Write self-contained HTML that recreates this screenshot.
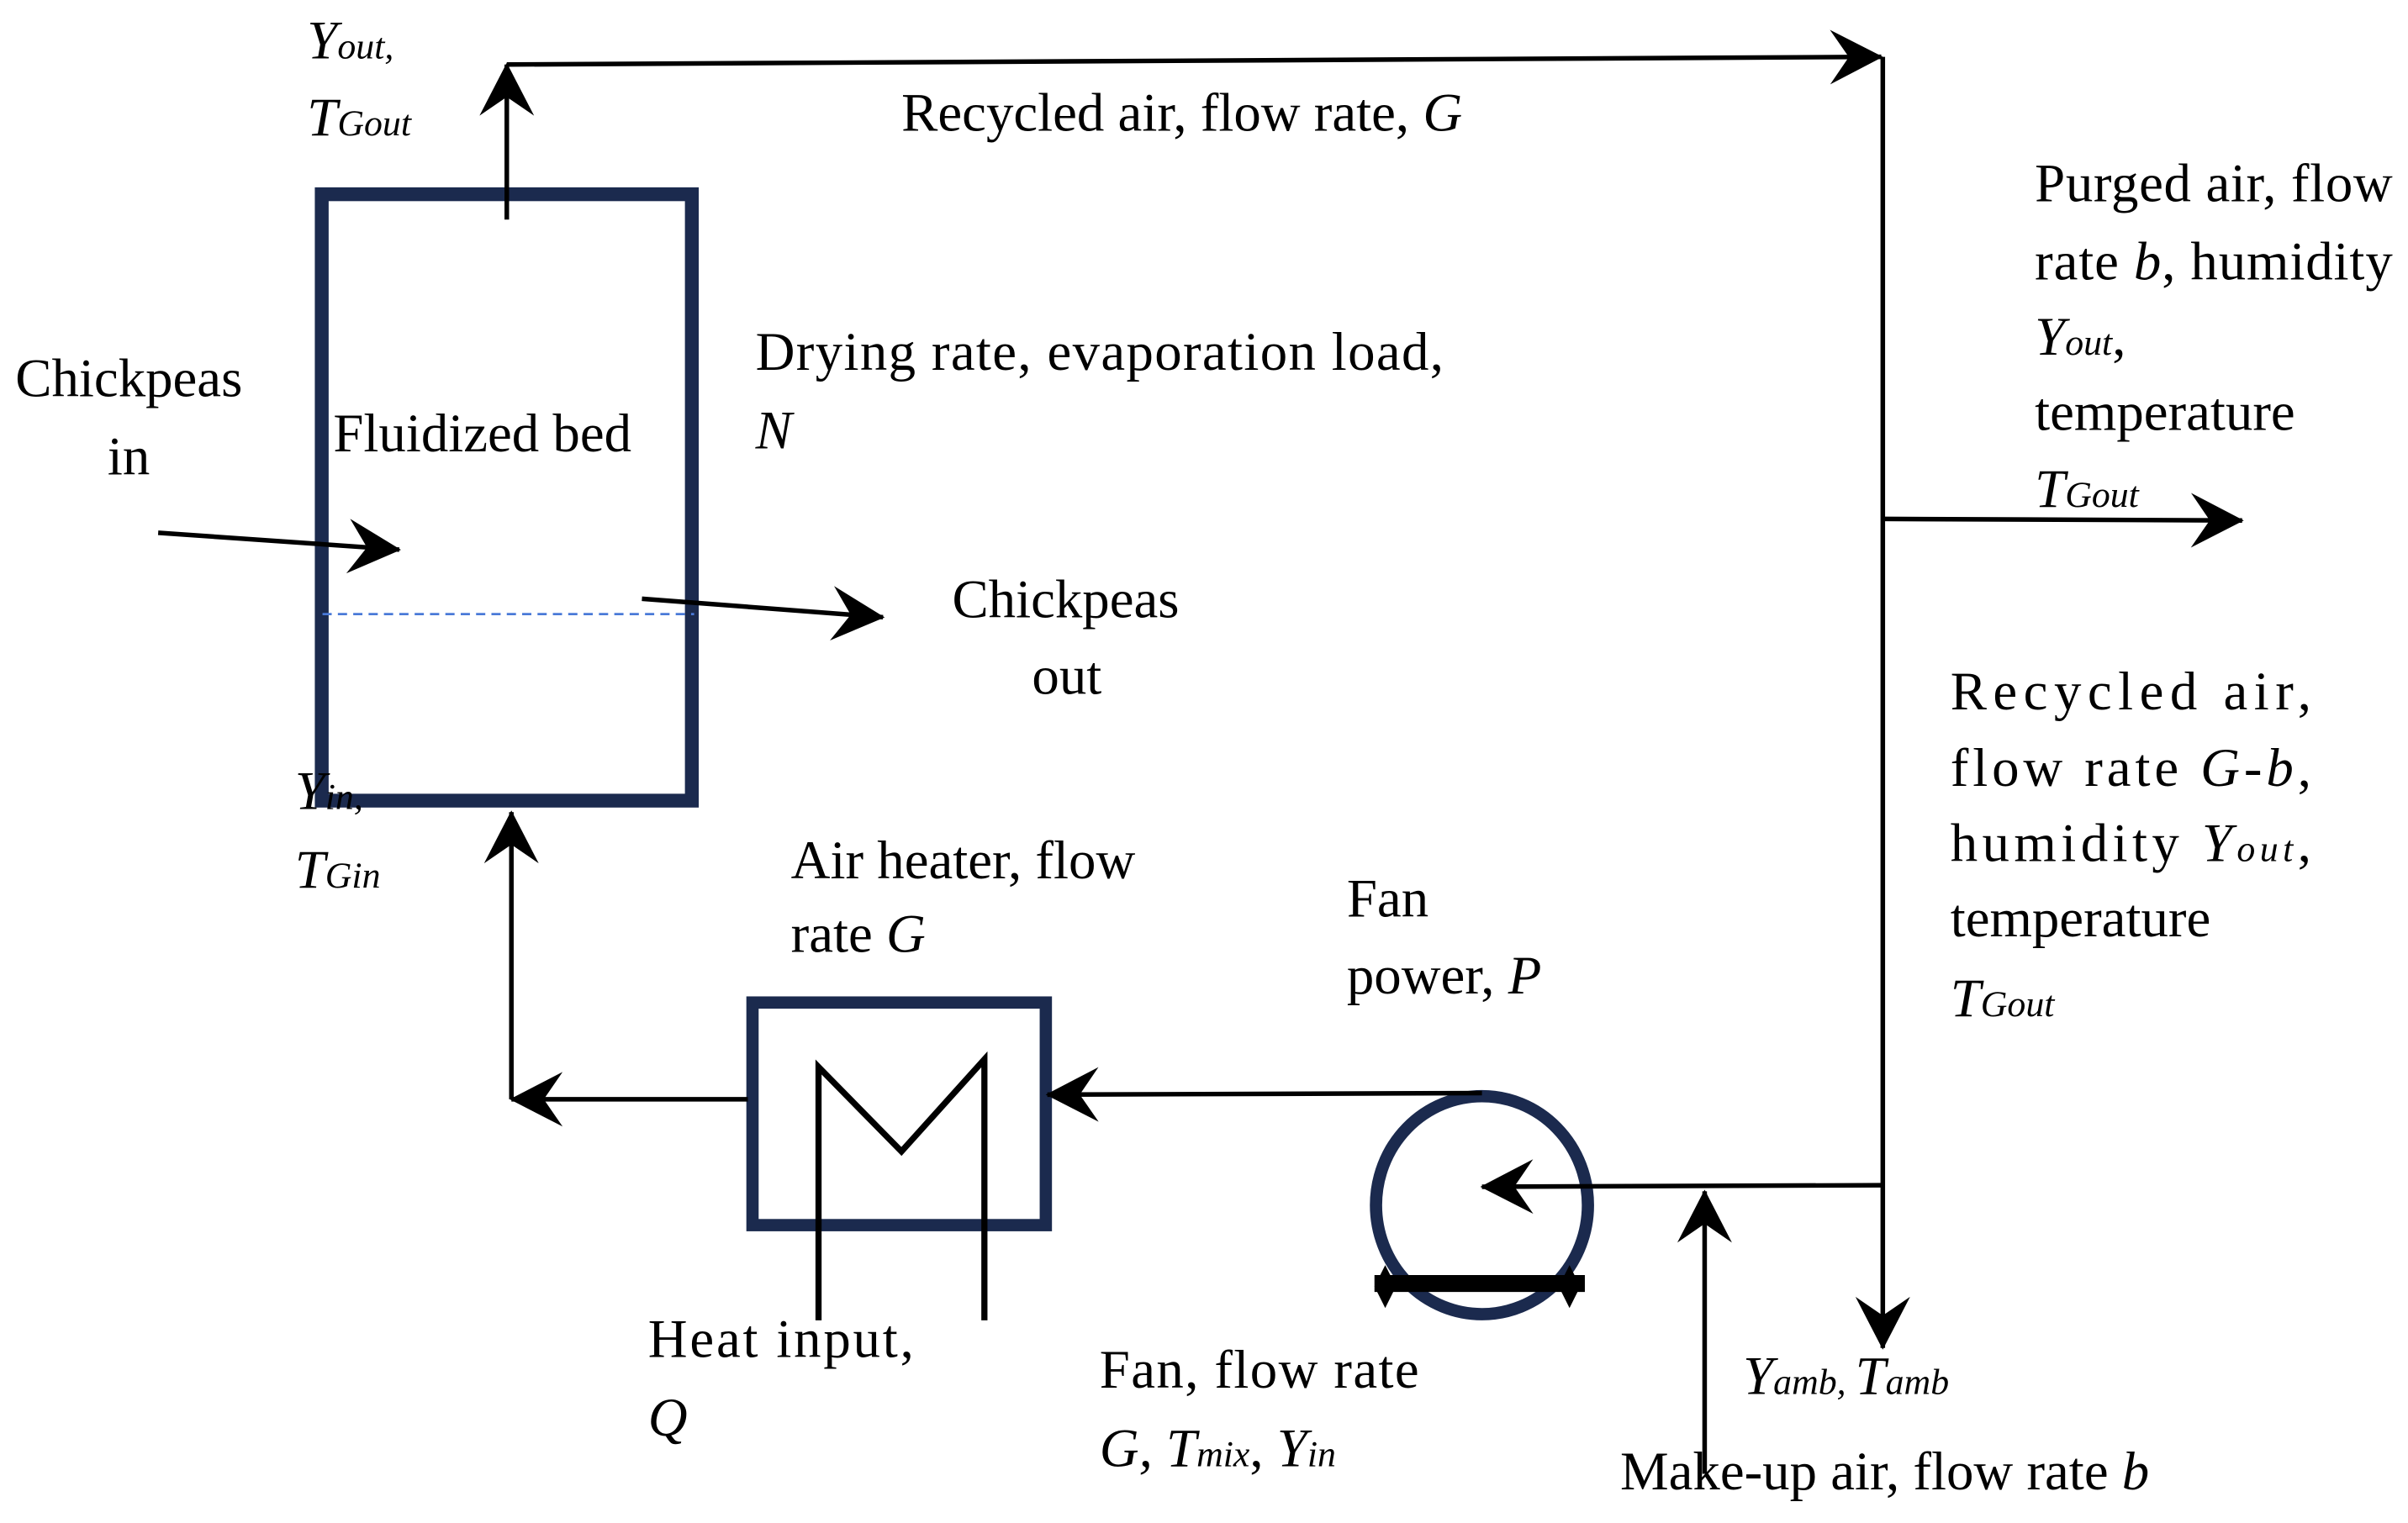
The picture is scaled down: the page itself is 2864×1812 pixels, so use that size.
<!DOCTYPE html>
<html><head><meta charset="utf-8"><style>
html,body{margin:0;padding:0;background:#fff;}
svg{display:block;}
text{font-family:"Liberation Serif",serif;font-size:35.5px;fill:#000;}
.i{font-style:italic;}
.s{font-size:24px;font-style:italic;}
</style></head><body>
<svg width="2864" height="1812" viewBox="0 0 1568 992" xmlns="http://www.w3.org/2000/svg">
<defs>
<marker id="a" markerUnits="userSpaceOnUse" markerWidth="40" markerHeight="40" viewBox="-32 -18 34 36" refX="0" refY="0" orient="auto">
<path d="M1,0 L-30,-16 L-19,0 L-30,16 Z" fill="#000"/>
</marker>
</defs>
<g fill="none" stroke="#1b2a4e">
<rect x="209.5" y="126.5" width="241" height="395" stroke-width="9"/>
<rect x="490" y="653" width="191" height="145" stroke-width="8"/>
<ellipse cx="965" cy="785" rx="69" ry="71" stroke-width="8"/>
</g>
<line x1="210" y1="400" x2="452" y2="400" stroke="#4a7ad8" stroke-width="1.5" stroke-dasharray="6,4"/>
<g stroke="#000" stroke-width="3" fill="none">
<line x1="330" y1="143" x2="330" y2="42" marker-end="url(#a)"/>
<line x1="330" y1="42" x2="1225" y2="37" marker-end="url(#a)"/>
<line x1="1226" y1="37" x2="1226" y2="878" marker-end="url(#a)"/>
<line x1="1226" y1="338" x2="1460" y2="339" marker-end="url(#a)"/>
<line x1="1226" y1="772" x2="965" y2="773" marker-end="url(#a)"/>
<line x1="1110" y1="960" x2="1110" y2="776" marker-end="url(#a)"/>
<line x1="965" y1="712" x2="682" y2="713" marker-end="url(#a)"/>
<line x1="487" y1="716" x2="333" y2="716" marker-end="url(#a)"/>
<line x1="333" y1="716" x2="333" y2="529" marker-end="url(#a)"/>
<line x1="103" y1="347" x2="260" y2="358" marker-end="url(#a)"/>
<line x1="418" y1="390" x2="575" y2="402" marker-end="url(#a)"/>
<polyline points="533,860 533,695 587,750 641,690 641,860" stroke-width="4"/>
</g>
<line x1="895" y1="836" x2="1032" y2="836" stroke="#000" stroke-width="11"/>
<path d="M902,824 L909,838 L902,852 L895,838 Z M1022,824 L1029,838 L1022,852 L1015,838 Z" fill="#000"/>

<text x="200" y="38" class="i">Y<tspan class="s">out,</tspan></text>
<text x="200" y="88" class="i">T<tspan class="s">Gout</tspan></text>
<text x="587" y="85">Recycled air, flow rate, <tspan class="i">G</tspan></text>
<text x="1325" y="131" textLength="233" lengthAdjust="spacing">Purged air, flow</text>
<text x="1325" y="182" textLength="233" lengthAdjust="spacing">rate <tspan class="i">b</tspan>, humidity</text>
<text x="1325" y="231" class="i">Y<tspan class="s">out</tspan><tspan font-style="normal">,</tspan></text>
<text x="1325" y="280">temperature</text>
<text x="1325" y="330" class="i">T<tspan class="s">Gout</tspan></text>
<text x="492" y="241" textLength="448" lengthAdjust="spacing">Drying rate, evaporation load,</text>
<text x="492" y="292" class="i">N</text>
<text x="10" y="258">Chickpeas</text>
<text x="70" y="309">in</text>
<text x="217" y="294">Fluidized bed</text>
<text x="620" y="402">Chickpeas</text>
<text x="672" y="452">out</text>
<text x="1270" y="462" textLength="235" lengthAdjust="spacing">Recycled air,</text>
<text x="1270" y="512" textLength="235" lengthAdjust="spacing">flow rate <tspan class="i">G-b</tspan>,</text>
<text x="1270" y="561" textLength="235" lengthAdjust="spacing">humidity <tspan class="i">Y</tspan><tspan class="s">out</tspan>,</text>
<text x="1270" y="610">temperature</text>
<text x="1270" y="662" class="i">T<tspan class="s">Gout</tspan></text>
<text x="192" y="527" class="i">Y<tspan class="s">in,</tspan></text>
<text x="192" y="578" class="i">T<tspan class="s">Gin</tspan></text>
<text x="515" y="572">Air heater, flow</text>
<text x="515" y="620">rate <tspan class="i">G</tspan></text>
<text x="877" y="597">Fan</text>
<text x="877" y="647">power, <tspan class="i">P</tspan></text>
<text x="422" y="884" textLength="173" lengthAdjust="spacing">Heat input,</text>
<text x="422" y="935" class="i">Q</text>
<text x="716" y="904" textLength="208" lengthAdjust="spacing">Fan, flow rate</text>
<text x="716" y="955" class="i">G, T<tspan class="s">mix</tspan><tspan font-style="normal">, </tspan>Y<tspan class="s">in</tspan></text>
<text x="1135" y="908" class="i">Y<tspan class="s">amb, </tspan>T<tspan class="s">amb</tspan></text>
<text x="1055" y="970">Make-up air, flow rate <tspan class="i">b</tspan></text>
</svg>
</body></html>
